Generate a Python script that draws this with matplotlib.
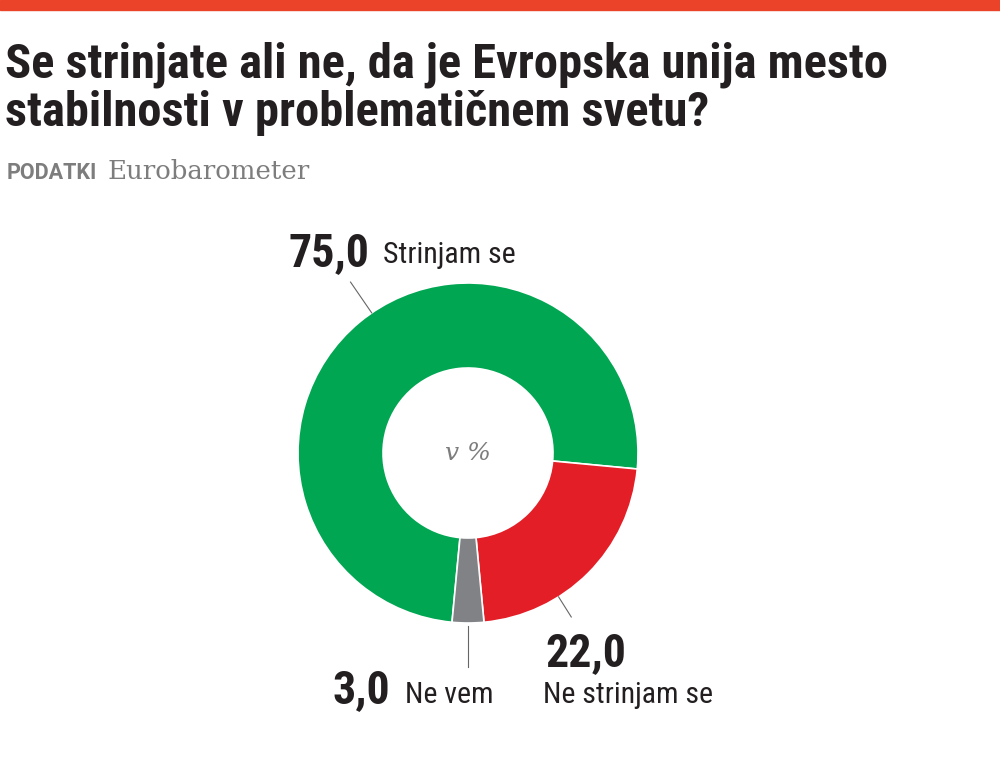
import matplotlib
matplotlib.use("Agg")
import matplotlib.pyplot as plt  # noqa: E402
from matplotlib import font_manager  # noqa: E402
from matplotlib.patches import Rectangle  # noqa: E402
import numpy as np  # noqa: E402

TITLE_LINES = ["Se strinjate ali ne, da je Evropska unija mesto",
               "stabilnosti v problematičnem svetu?"]
SOURCE_TAG = "PODATKI"
SOURCE = "Eurobarometer"
CENTER_LABEL = "v %"

categories = ["Strinjam se", "Ne strinjam se", "Ne vem"]
values = [75.0, 22.0, 3.0]
colors = ["#00a651", "#e41e26", "#808285"]

W, H = 1000, 774
DARK = "#231f20"
GREY = "#7d7d7d"

names = {f.name for f in font_manager.fontManager.ttflist}
SANS = next((n for n in ["Roboto Condensed", "Liberation Sans Narrow",
                         "Open Sans Condensed", "Liberation Sans"] if n in names),
            "DejaVu Sans")
TAG_FONT = "Roboto" if "Roboto" in names else SANS
SERIF = "DejaVu Serif"


def fx(x):
    return x / W


def fy(y):
    return 1 - y / H


fig = plt.figure(figsize=(W / 100, H / 100), dpi=100)
fig.patch.set_facecolor("white")

# orange rule on top
fig.patches.append(Rectangle((0, fy(10)), 1, 10 / H, transform=fig.transFigure,
                             color="#ea4329", zorder=0))

for i, line in enumerate(TITLE_LINES):
    fig.text(fx(5), fy(78 + 48 * i), line, family=SANS, weight="bold",
             fontsize=34.9, color=DARK, va="baseline", ha="left")
fig.text(fx(7), fy(179), SOURCE_TAG, family=TAG_FONT, weight="bold",
         fontsize=15.5, color=GREY, va="baseline")
fig.text(fx(108), fy(179), SOURCE, family=SERIF, fontsize=18.7,
         color=GREY, va="baseline")

# donut
cx, cy, r = 468, 453, 170
ax = fig.add_axes([fx(cx - r), fy(cy + r), 2 * r / W, 2 * r / H])
ax.pie(values, colors=colors, startangle=264.6, counterclock=False, radius=1,
       wedgeprops=dict(width=0.5, edgecolor="white", linewidth=1.2))
ax.set_xlim(-1, 1)
ax.set_ylim(-1, 1)
ax.axis("off")
ax.text(0, 0, CENTER_LABEL, family=SERIF, style="italic", fontsize=18,
        color=GREY, ha="center", va="center")

# leader lines (angle in degrees, inner/outer radius)
leaders = [(124.5, 1.0, 1.22), (-57.8, 1.0, 1.14), (-90.0, 1.02, 1.26)]
for ang, r0, r1 in leaders:
    a = np.deg2rad(ang)
    ax.plot([r0 * np.cos(a), r1 * np.cos(a)], [r0 * np.sin(a), r1 * np.sin(a)],
            color="#666666", lw=0.8, clip_on=False)

# labels: (value x, value y, name x, name y)
label_pos = [(288, 266, 383, 263), (545, 666, 543, 703), (333, 703, 405, 703)]
for (vx, vy, nx, ny), v, name in zip(label_pos, values, categories):
    fig.text(fx(vx), fy(vy), f"{v:.1f}".replace(".", ","), family=SANS,
             weight="bold", fontsize=33, color=DARK, va="baseline")
    fig.text(fx(nx), fy(ny), name, family=SANS, fontsize=21.5, color=DARK,
             va="baseline")

fig.savefig("out.png", dpi=100)
